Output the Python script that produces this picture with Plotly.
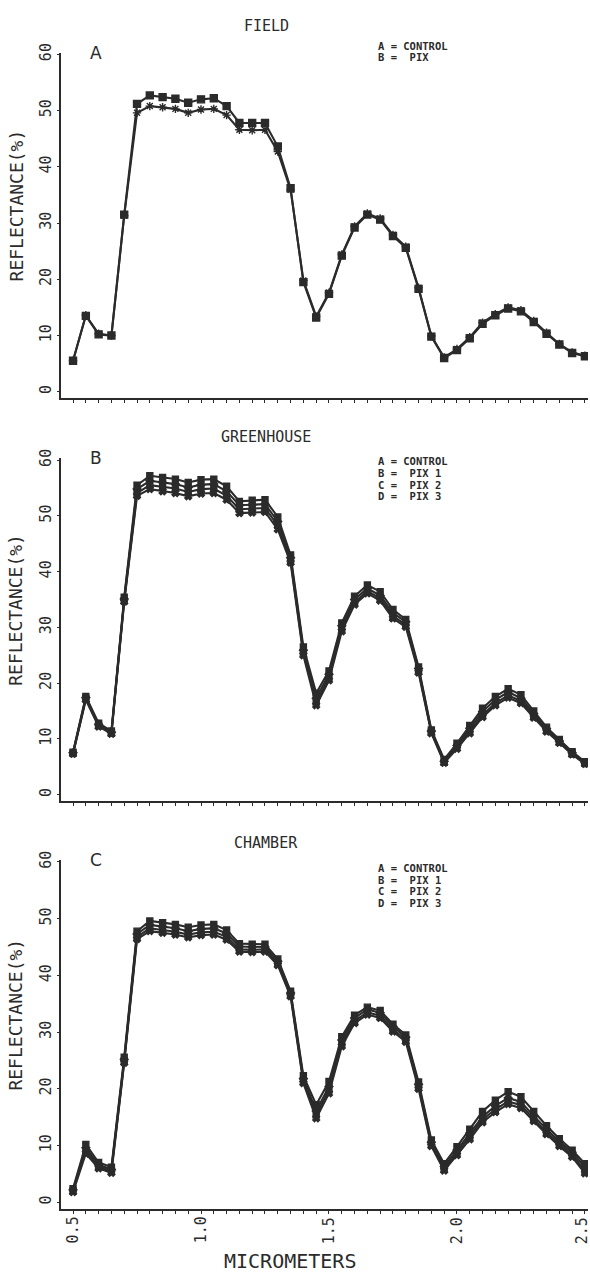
import plotly.graph_objects as go

# Wavelengths (micrometers), sampled every 0.05
wavelength = [0.50, 0.55, 0.60, 0.65, 0.70, 0.75, 0.80, 0.85, 0.90, 0.95,
              1.00, 1.05, 1.10, 1.15, 1.20, 1.25, 1.30, 1.35, 1.40, 1.45,
              1.50, 1.55, 1.60, 1.65, 1.70, 1.75, 1.80, 1.85, 1.90, 1.95,
              2.00, 2.05, 2.10, 2.15, 2.20, 2.25, 2.30, 2.35, 2.40, 2.45, 2.50]

# FIELD
field_control = [5.5, 13.5, 10.2, 10.0, 31.5, 51.2, 52.7, 52.4, 52.1, 51.4,
                 52.0, 52.2, 50.8, 47.8, 47.8, 47.8, 43.6, 36.2, 19.5, 13.2,
                 17.4, 24.2, 29.2, 31.5, 30.6, 27.7, 25.6, 18.3, 9.8, 6.0,
                 7.4, 9.5, 12.1, 13.6, 14.8, 14.3, 12.4, 10.3, 8.4, 6.9, 6.3]
field_pix = [5.5, 13.6, 10.3, 10.0, 31.3, 49.6, 50.8, 50.6, 50.3, 49.6,
             50.2, 50.3, 49.2, 46.6, 46.5, 46.6, 42.7, 35.9, 19.8, 13.4,
             17.6, 24.4, 29.4, 31.7, 30.8, 27.9, 25.8, 18.5, 9.9, 6.1,
             7.6, 9.7, 12.3, 13.8, 15.0, 14.5, 12.6, 10.5, 8.5, 7.0, 6.4]

# GREENHOUSE
gh_control = [7.6, 17.6, 12.8, 11.4, 35.4, 55.5, 57.2, 56.9, 56.6, 56.0,
              56.5, 56.6, 55.3, 52.6, 52.8, 52.9, 49.8, 43.0, 26.5, 18.2,
              22.2, 30.8, 35.6, 37.6, 36.4, 33.2, 31.4, 22.9, 11.6, 6.3,
              9.2, 12.4, 15.5, 17.6, 19.0, 17.9, 15.0, 12.1, 9.9, 7.7, 5.9]
gh_pix1 = [7.5, 17.4, 12.6, 11.2, 35.1, 54.8, 56.3, 56.0, 55.7, 55.1,
           55.6, 55.7, 54.4, 51.9, 52.0, 52.1, 49.0, 42.5, 25.9, 17.3,
           21.6, 30.3, 35.0, 37.0, 35.7, 32.6, 31.0, 22.6, 11.4, 6.0,
           8.8, 11.9, 14.9, 17.0, 18.4, 17.3, 14.5, 11.8, 9.6, 7.5, 5.7]
gh_pix2 = [7.4, 17.2, 12.4, 11.0, 34.8, 54.1, 55.5, 55.2, 54.9, 54.3,
           54.8, 54.9, 53.6, 51.2, 51.3, 51.4, 48.3, 42.0, 25.4, 16.6,
           21.0, 29.8, 34.5, 36.5, 35.2, 32.0, 30.5, 22.2, 11.2, 5.8,
           8.5, 11.4, 14.3, 16.4, 17.8, 16.8, 14.1, 11.5, 9.4, 7.3, 5.6]
gh_pix3 = [7.3, 17.0, 12.2, 10.9, 34.6, 53.6, 54.8, 54.4, 54.1, 53.5,
           54.0, 54.1, 52.9, 50.5, 50.6, 50.7, 47.6, 41.6, 25.0, 16.0,
           20.5, 29.3, 34.1, 36.1, 34.8, 31.6, 30.1, 21.9, 11.0, 5.7,
           8.2, 11.0, 13.9, 16.0, 17.4, 16.4, 13.8, 11.3, 9.3, 7.2, 5.5]

# CHAMBER
ch_control = [2.4, 10.2, 7.0, 6.2, 25.6, 47.8, 49.6, 49.3, 49.0, 48.5,
              48.9, 49.0, 48.0, 45.6, 45.5, 45.5, 42.9, 37.2, 22.3, 17.2,
              21.3, 29.2, 33.0, 34.4, 33.8, 31.4, 29.5, 21.2, 11.0, 6.8,
              9.8, 12.9, 16.0, 18.0, 19.5, 18.6, 16.0, 13.5, 11.2, 9.2, 6.8]
ch_pix1 = [2.2, 9.6, 6.6, 5.8, 25.2, 47.3, 48.9, 48.6, 48.3, 47.8,
           48.2, 48.3, 47.4, 45.1, 45.0, 45.0, 42.5, 36.9, 21.8, 16.1,
           20.4, 28.6, 32.5, 34.0, 33.4, 31.0, 29.1, 20.8, 10.6, 6.3,
           9.2, 12.2, 15.1, 17.0, 18.4, 17.7, 15.2, 12.9, 10.7, 8.8, 6.2]
ch_pix2 = [2.0, 9.1, 6.3, 5.5, 24.9, 46.8, 48.3, 48.0, 47.7, 47.2,
           47.6, 47.7, 46.8, 44.6, 44.5, 44.6, 42.1, 36.6, 21.4, 15.4,
           19.8, 28.0, 32.0, 33.5, 32.9, 30.5, 28.7, 20.4, 10.2, 5.9,
           8.7, 11.6, 14.6, 16.4, 17.8, 17.1, 14.7, 12.4, 10.3, 8.4, 5.6]
ch_pix3 = [1.8, 8.6, 6.0, 5.2, 24.6, 46.4, 47.8, 47.5, 47.2, 46.7,
           47.1, 47.2, 46.3, 44.2, 44.1, 44.2, 41.8, 36.3, 21.0, 14.8,
           19.2, 27.5, 31.6, 33.1, 32.5, 30.1, 28.3, 20.0, 9.9, 5.6,
           8.3, 11.1, 14.1, 15.9, 17.3, 16.6, 14.3, 12.0, 9.9, 8.0, 5.1]

y_ticks = [0, 10, 20, 30, 40, 50, 60]
x_ticks = [0.5, 1.0, 1.5, 2.0, 2.5]
x_tick_text = ["0.5", "1.0", "1.5", "2.0", "2.5"]

INK = "#2b2b2b"
MONO = "DejaVu Sans Mono"
W, H = 590, 1274

panels = [
    dict(name="FIELD", letter="A", top=43, bottom=391, title_y=16,
         series=[("A", field_control, "square", 7),
                 ("B", field_pix, "asterisk-open", 7)],
         legend=["A = CONTROL", "B =  PIX"], leg_y=36, leg_dy=11.7),
    dict(name="GREENHOUSE", letter="B", top=452, bottom=797, title_y=430,
         series=[("A", gh_control, "square", 6),
                 ("B", gh_pix1, "diamond", 6),
                 ("C", gh_pix2, "square", 6),
                 ("D", gh_pix3, "x", 6)],
         legend=["A = CONTROL", "B =  PIX 1", "C =  PIX 2", "D =  PIX 3"],
         leg_y=455, leg_dy=11.7),
    dict(name="CHAMBER", letter="C", top=857, bottom=1208, title_y=840,
         series=[("A", ch_control, "square", 6),
                 ("B", ch_pix1, "diamond", 6),
                 ("C", ch_pix2, "square", 6),
                 ("D", ch_pix3, "x", 6)],
         legend=["A = CONTROL", "B =  PIX 1", "C =  PIX 2", "D =  PIX 3"],
         leg_y=865, leg_dy=11.7),
]

X0, X1 = 61, 588
fig = go.Figure()
annotations = []


def note(text, px, py, size, family=MONO, angle=0, xanchor="center"):
    annotations.append(dict(text=text, x=px / W, y=1 - py / H, xref="paper", yref="paper",
                            showarrow=False, textangle=angle, xanchor=xanchor,
                            yanchor="middle", font=dict(family=family, size=size, color=INK)))


for k, p in enumerate(panels, start=1):
    xa = "x" if k == 1 else f"x{k}"
    ya = "y" if k == 1 else f"y{k}"
    for label, vals, sym, size in p["series"]:
        fig.add_trace(go.Scatter(
            x=wavelength, y=vals, mode="lines+markers", name=label,
            xaxis=xa, yaxis=ya, showlegend=False,
            line=dict(color=INK, width=2.1),
            marker=dict(symbol=sym, size=size, color=INK,
                        line=dict(color=INK, width=1.4)),
        ))
    dom_y = [1 - p["bottom"] / H, 1 - p["top"] / H]
    fig.layout[f"xaxis{'' if k == 1 else k}"] = dict(
        domain=[X0 / W, X1 / W], anchor=ya, range=[0.453, 2.512],
        showline=True, linecolor=INK, linewidth=2, showgrid=False, zeroline=False,
        tickvals=x_ticks, showticklabels=False,
        ticks="outside", ticklen=3, tickcolor=INK,
        minor=dict(dtick=0.05, tick0=0.5, ticks="outside", ticklen=3, tickcolor=INK),
    )
    fig.layout[f"yaxis{'' if k == 1 else k}"] = dict(
        domain=dom_y, anchor=xa, range=[-1.1, 60.3],
        showline=True, linecolor=INK, linewidth=2, showgrid=False, zeroline=False,
        tickvals=y_ticks, tickangle=-90, ticks="outside", ticklen=2, tickcolor=INK,
        tickfont=dict(family=MONO, size=15, color=INK),
    )
    mid = (p["top"] + p["bottom"]) / 2
    note("REFLECTANCE(%)", 16, mid - 20, 18, angle=-90)
    note(p["name"], 266, p["title_y"], 15)
    note(p["letter"], 96, p["top"], 17, family="DejaVu Sans")
    for j, line in enumerate(p["legend"]):
        note("<b>" + line + "</b>", 376, p["leg_y"] + j * p["leg_dy"], 10.5, xanchor="left")

# wavelength labels under the bottom panel, rotated like the y labels
for v, t in zip(x_ticks, x_tick_text):
    annotations.append(dict(text=t, x=v, xref="x3", y=1 - 1230 / H, yref="paper",
                            showarrow=False, textangle=-90, xanchor="center",
                            xshift=-3 if v == 2.5 else 0,
                            yanchor="middle", font=dict(family=MONO, size=15, color=INK)))

note("MICROMETERS", 290, 1261, 20)

fig.update_layout(
    width=W, height=H, margin=dict(l=0, r=0, t=0, b=0),
    paper_bgcolor="white", plot_bgcolor="white",
    annotations=annotations,
)

fig.write_html("out.html")
